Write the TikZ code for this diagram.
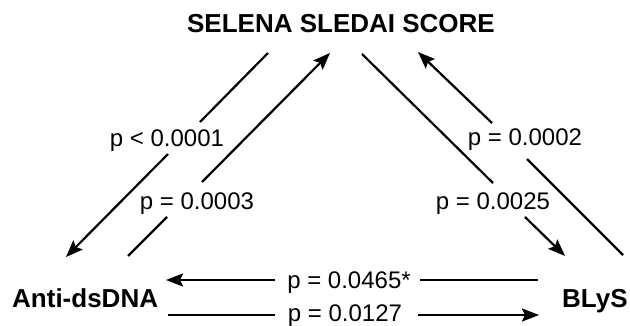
\documentclass[tikz,border=0pt]{standalone}
\usepackage{fontspec}
\setmainfont{Liberation Sans}
\usetikzlibrary{arrows.meta}
\begin{document}
\begin{tikzpicture}[x=1pt,y=-1pt,
  conn/.style={line width=2.2pt},
  arr/.style={line width=2.2pt,-{Stealth[length=17pt,width=13pt,inset=3pt]}},
  plab/.style={anchor=base,inner sep=0pt,font=\fontsize{24}{28}\selectfont},
  blab/.style={inner sep=0pt,font=\fontsize{26}{30}\selectfont\bfseries}]
\useasboundingbox (0,0) rectangle (630,326);
% main nodes
\node[blab,anchor=base] (title) at (341,33) {SELENA SLEDAI SCORE};
\node[blab,anchor=base west] (anti) at (12,308) {Anti-dsDNA};
\node[blab,anchor=base west] (blys) at (562,307) {BLyS};
% labels
\node[plab] (l1) at (167,147) {p < 0.0001};
\node[plab] (l2) at (197,210) {p = 0.0003};
\node[plab] (l3) at (525,146) {p = 0.0002};
\node[plab] (l4) at (493,210) {p = 0.0025};
\node[plab] (l5) at (349,288) {p = 0.0465*};
\node[plab] (l6) at (345,321) {p = 0.0127};
% coordinates
\coordinate (a1) at (268,53); \coordinate (a2) at (200,122);
\coordinate (a3) at (168,154); \coordinate (a4) at (66,257);
\coordinate (b1) at (128,256); \coordinate (b2) at (167,217);
\coordinate (b3) at (202,182); \coordinate (b4) at (330,53);
\coordinate (c1) at (362,54); \coordinate (c2) at (493,183);
\coordinate (c3) at (525,217); \coordinate (c4) at (565,256);
\coordinate (d1) at (623,255); \coordinate (d2) at (527,159);
\coordinate (d3) at (492,123); \coordinate (d4) at (418,52);
\coordinate (e1) at (538,280); \coordinate (e2) at (420,280);
\coordinate (e3) at (275,280); \coordinate (e4) at (166,280);
\coordinate (f1) at (168,315); \coordinate (f2) at (275,315);
\coordinate (f3) at (418,315); \coordinate (f4) at (539,315);
% connectors
\draw[conn] (a1) -- (a2); \draw[arr] (a3) -- (a4);
\draw[conn] (b1) -- (b2); \draw[arr] (b3) -- (b4);
\draw[conn] (c1) -- (c2); \draw[arr] (c3) -- (c4);
\draw[conn] (d1) -- (d2); \draw[arr] (d3) -- (d4);
\draw[conn] (e1) -- (e2); \draw[arr] (e3) -- (e4);
\draw[conn] (f1) -- (f2); \draw[arr] (f3) -- (f4);
\end{tikzpicture}
\end{document}
